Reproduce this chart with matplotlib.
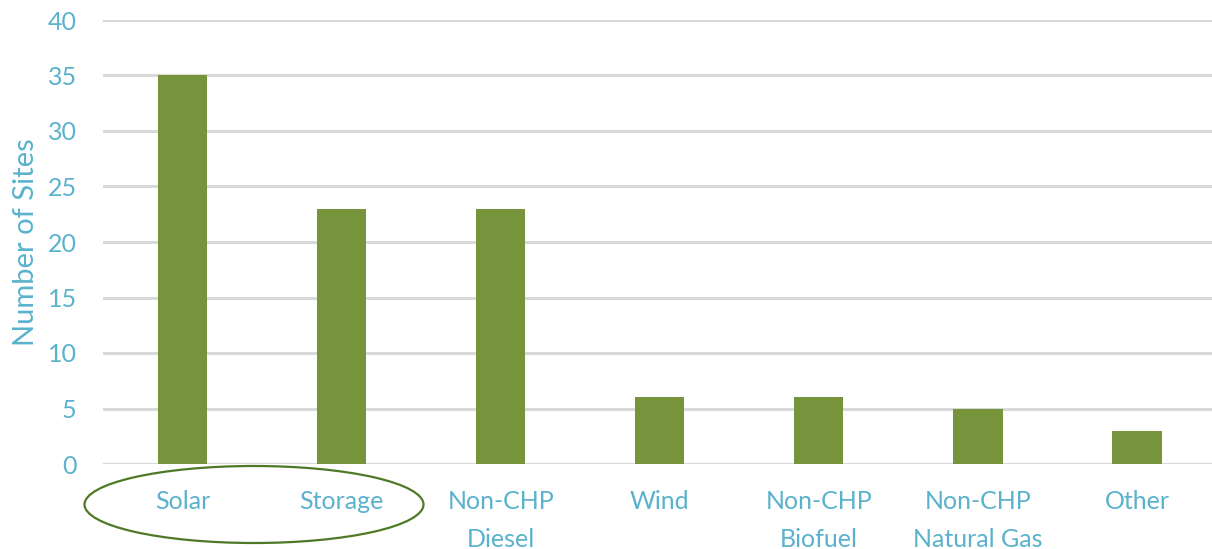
import matplotlib
matplotlib.use("Agg")
import matplotlib.pyplot as plt
from matplotlib.patches import Ellipse

categories = ["Solar", "Storage", "Non-CHP\nDiesel", "Wind", "Non-CHP\nBiofuel",
              "Non-CHP\nNatural Gas", "Other"]
sites = [35, 23, 23, 6, 6, 5, 3]
yticks = [0, 5, 10, 15, 20, 25, 30, 35, 40]

bar_color = "#77933C"
text_color = "#5AB2CC"
grid_color = "#D9D9D9"

plt.rcParams["font.family"] = ["Lato", "DejaVu Sans"]

fig = plt.figure(figsize=(12.12, 5.49), dpi=100)
ax = fig.add_axes([103 / 1212, 1 - 464 / 549, 1 - 103 / 1212, (464 - 20) / 549])

x = list(range(len(categories)))
ax.bar(x, sites, width=0.31, color=bar_color, zorder=3)

ax.set_ylim(0, 40)
ax.set_xlim(-0.5, 6.472)
ax.set_yticks(yticks)
ax.set_xticks(x)
ax.set_xticklabels(categories, linespacing=1.75)
ax.yaxis.grid(True, color=grid_color, linewidth=2.2, zorder=0)
ax.set_axisbelow(True)
for s in ax.spines.values():
    s.set_visible(False)
ax.tick_params(axis="both", length=0, colors=text_color, labelsize=18)
ax.tick_params(axis="x", pad=19)
ax.tick_params(axis="y", pad=19)
ax.set_ylabel("Number of Sites", color=text_color, fontsize=21, labelpad=6)

# highlight around the first two category labels
ell = Ellipse((2.54, (549 - 504.5) / 100), 3.39, 0.77, transform=fig.dpi_scale_trans,
              fill=False, edgecolor="#4E7A27", linewidth=1.6, clip_on=False)
fig.add_artist(ell)

fig.savefig("out.png", dpi=100)
